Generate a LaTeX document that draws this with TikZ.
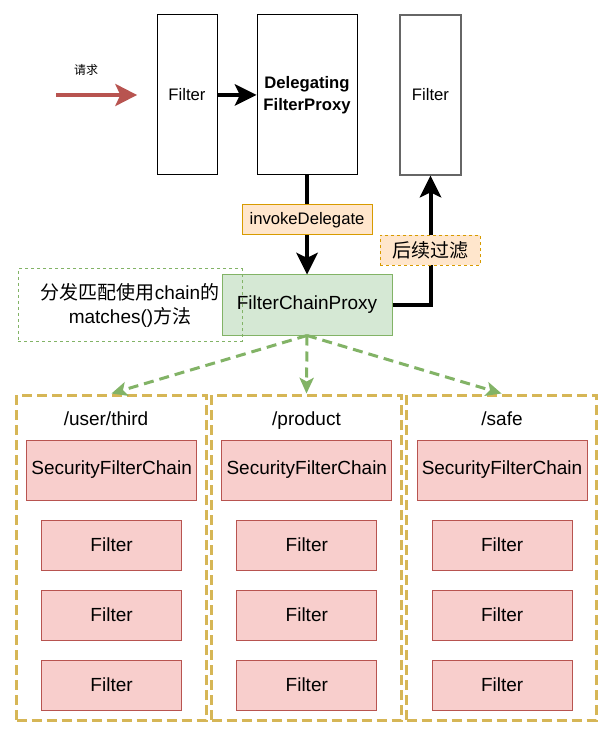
\documentclass[tikz,border=0pt]{standalone}
\usepackage{fontspec}
\setmainfont{Liberation Sans}
\newfontfamily\cjk{Noto Sans CJK SC}
\usetikzlibrary{arrows.meta}
\definecolor{redline}{HTML}{B85450}
\definecolor{redfill}{HTML}{F8CECC}
\definecolor{greenline}{HTML}{82B366}
\definecolor{greenfill}{HTML}{D5E8D4}
\definecolor{orangeline}{HTML}{D79B00}
\definecolor{orangefill}{HTML}{FFE6CC}
\definecolor{yellowline}{HTML}{D6B656}
\definecolor{grayline}{HTML}{666666}
\newcommand{\bigfont}{\fontsize{14.25}{18}\selectfont}
\newcommand{\midfont}{\fontsize{12.5}{16.2}\selectfont}
\begin{document}
\begin{tikzpicture}[x=0.75pt,y=-0.75pt,
  box/.style={draw, line width=0.75pt, inner sep=0pt, align=center},
  tallbox/.style={box, minimum width=45pt, minimum height=120pt, font=\midfont},
  redbox/.style={box, draw=redline, fill=redfill, font=\bigfont},
  sfcbox/.style={redbox, minimum width=127.5pt, minimum height=45pt},
  filterbox/.style={redbox, minimum width=105pt, minimum height=37.5pt},
  container/.style={draw=yellowline, line width=2.25pt, dash pattern=on 7.5pt off 3.75pt,
    minimum width=142.5pt, minimum height=243.75pt, inner sep=0pt},
  title/.style={inner sep=0pt, anchor=base, font=\bigfont},
  blackarrow/.style={line width=3pt, line join=miter,
    -{Stealth[length=16.5pt, width=16.5pt, inset=4pt, line width=0pt]}},
  redarrow/.style={line width=3pt, draw=redline,
    -{Stealth[length=16.5pt, width=17pt, inset=4pt, line width=0pt]}},
  greenarrow/.style={line width=2.25pt, draw=greenline, dash pattern=on 7.5pt off 4.5pt,
    -{Stealth[length=12pt, width=11pt, inset=3pt, line width=0pt]}},
]
\useasboundingbox (0,0) rectangle (614,737);
\fill[white] (0,0) rectangle (614,737);

% top row
\node[tallbox] (filter1) at (187,95) {Filter};
\node[tallbox, minimum width=75pt, font=\midfont\bfseries] (dfp) at (307,95) {Delegating\\FilterProxy};
\node[tallbox, minimum width=45.75pt, draw=grayline, line width=1.1pt] (filter2) at (430.5,95) {Filter};

% request arrow
\node[inner sep=0pt, font=\cjk\fontsize{9}{10}\selectfont] (req) at (86,70) {请求};
\coordinate (reqstart) at (56,95);
\coordinate (reqend) at (137,95);
\draw[redarrow] (reqstart) -- (reqend);

\draw[blackarrow] (filter1.east) -- (dfp.west);

% proxy
\node[box, draw=greenline, fill=greenfill, minimum width=127.5pt, minimum height=45pt, font=\bigfont] (fcp) at (307,305) {FilterChainProxy};
\node[box, dash pattern=on 2.25pt off 2.25pt, draw=greenline, minimum width=168pt, minimum height=54pt, font=\bigfont] (note) at (130,305) {{\cjk 分发匹配使用}chain{\cjk 的}\\matches(){\cjk 方法}};

\draw[blackarrow] (dfp.south) -- (fcp.north);
\node[box, draw=orangeline, fill=orangefill, minimum width=97.5pt, minimum height=22.5pt, font=\midfont] (invoke) at (307,220) {invokeDelegate};

\coordinate (corner) at (filter2.south |- fcp.east);
\draw[blackarrow] (fcp.east) -- (corner) -- (filter2.south);
\node[box, dash pattern=on 2.25pt off 2.25pt, draw=orangeline, fill=orangefill, minimum width=75pt, minimum height=22.5pt, font=\cjk\bigfont] (next) at (430,250.5) {后续过滤};

% containers
\node[container] (c1) at (111.5,557.5) {};
\node[container] (c2) at (306.5,557.5) {};
\node[container] (c3) at (501.5,557.5) {};

\node[title] (t1) at (106,425) {/user/third};
\node[title] (t2) at (306.5,425) {/product};
\node[title] (t3) at (502,425) {/safe};

\node[sfcbox] (s1) at (111.6,470) {SecurityFilterChain};
\node[sfcbox] (s2) at (306.8,470) {SecurityFilterChain};
\node[sfcbox] (s3) at (502,470) {SecurityFilterChain};

\foreach \col/\cx in {1/111.6, 2/306.8, 3/502.2}{
  \node[filterbox] (f\col a) at (\cx,545) {Filter};
  \node[filterbox] (f\col b) at (\cx,615) {Filter};
  \node[filterbox] (f\col c) at (\cx,685) {Filter};
}

\draw[greenarrow] (fcp.south) -- (c1.north);
\draw[greenarrow] (fcp.south) -- (c2.north);
\draw[greenarrow] (fcp.south) -- (c3.north);
\end{tikzpicture}
\end{document}
